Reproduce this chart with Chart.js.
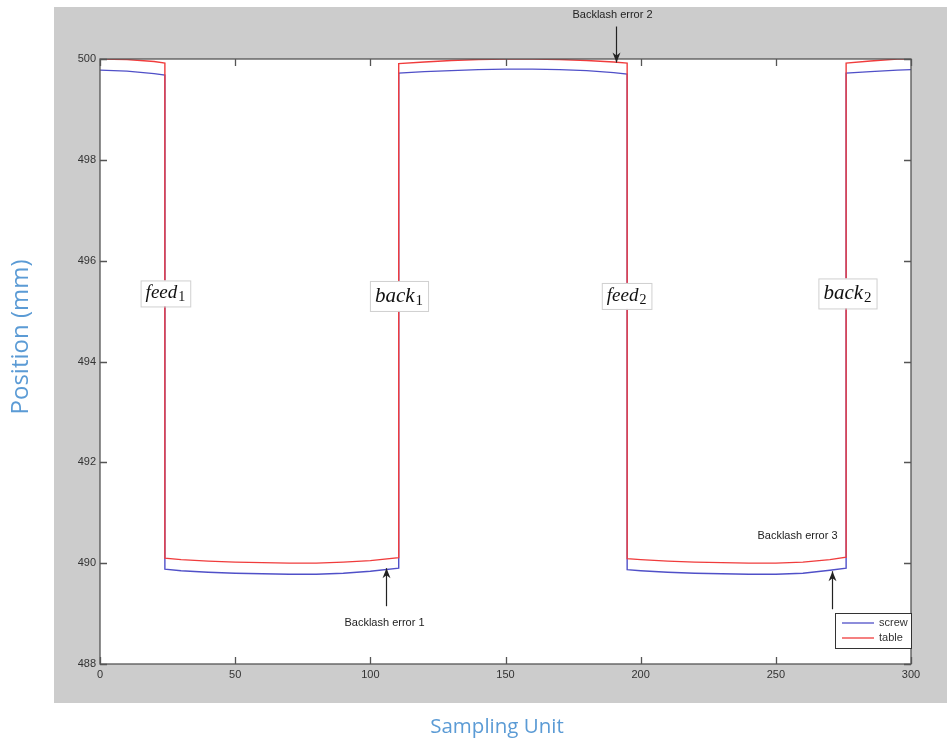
<!DOCTYPE html>
<html>
<head>
<meta charset="utf-8">
<script src="https://cdn.jsdelivr.net/npm/chart.js@4.4.1/dist/chart.umd.min.js"></script>
<style>
  html, body { margin: 0; padding: 0; background: #ffffff; }
  #wrap { width: 947px; height: 743px; position: relative; }
</style>
</head>
<body>
<div id="wrap"><canvas id="grafico" width="947" height="743"></canvas></div>
<script>
// ===========================
// Dados
// ===========================
const sampleX = [0, 10, 20, 24, 24, 30, 40, 50, 60, 70, 80, 90, 100, 110.5, 110.5,
    120, 130, 140, 150, 160, 170, 180, 190, 195, 195, 200, 210, 220, 230, 240,
    250, 260, 270, 276, 276, 285, 295, 300];

const tableValues = [500.00, 499.99, 499.95, 499.92, 490.10, 490.07, 490.04, 490.02,
    490.01, 490.00, 490.00, 490.02, 490.05, 490.11, 499.91, 499.94, 499.97, 499.99,
    500.00, 500.00, 499.99, 499.97, 499.94, 499.92, 490.09, 490.07, 490.04, 490.02,
    490.01, 490.00, 490.00, 490.02, 490.07, 490.12, 499.92, 499.96, 500.00, 500.00];

const screwValues = [499.78, 499.76, 499.71, 499.68, 489.88, 489.85, 489.82, 489.80,
    489.79, 489.78, 489.78, 489.80, 489.84, 489.90, 499.72, 499.75, 499.77, 499.79,
    499.80, 499.80, 499.79, 499.77, 499.73, 499.70, 489.87, 489.85, 489.82, 489.80,
    489.79, 489.78, 489.78, 489.80, 489.86, 489.90, 499.72, 499.75, 499.78, 499.79];

const seriesNames = ['screw', 'table'];

const xTicks = [0, 50, 100, 150, 200, 250, 300];
const yTicks = [488, 490, 492, 494, 496, 498, 500];

// labels feed/back (x, y em unidades do gráfico)
const phaseNames = ['feed', 'back', 'feed', 'back'];
const phaseSubs = ['1', '1', '2', '2'];
const phaseX = [24.2, 110.6, 194.8, 276.5];
const phaseY = [495.35, 495.3, 495.3, 495.35];

// setas "Backlash error"
const errorNames = ['Backlash error 1', 'Backlash error 2', 'Backlash error 3'];
const errorX = [105.8, 190.9, 270.8];
const errorTipY = [489.9, 499.93, 489.84];

const COR_SCREW = '#5050c8';
const COR_TABLE = '#f03c3c';
const COR_TITULO = '#5b9bd5';

// ===========================
// Plugin de desenho (fundo, caixa, anotações)
// ===========================
const matlabPlugin = {
    id: 'matlab',

    beforeDraw(chart) {
        const ctx = chart.ctx;
        const a = chart.chartArea;
        ctx.save();
        ctx.fillStyle = '#ffffff';
        ctx.fillRect(0, 0, chart.width, chart.height);
        ctx.fillStyle = '#cccccc';
        ctx.fillRect(54, 7, chart.width - 54, 696);
        ctx.fillStyle = '#ffffff';
        ctx.fillRect(a.left, a.top, a.right - a.left, a.bottom - a.top);
        ctx.restore();
    },

    afterDatasetsDraw(chart) {
        const ctx = chart.ctx;
        const a = chart.chartArea;
        const xs = chart.scales.x;
        const ys = chart.scales.y;

        ctx.save();

        // caixa
        ctx.strokeStyle = '#555555';
        ctx.lineWidth = 1.3;
        ctx.strokeRect(a.left, a.top, a.right - a.left, a.bottom - a.top);

        // ticks para dentro
        ctx.beginPath();
        xTicks.forEach(v => {
            const px = Math.round(xs.getPixelForValue(v)) + 0.5;
            ctx.moveTo(px, a.bottom); ctx.lineTo(px, a.bottom - 7);
            ctx.moveTo(px, a.top); ctx.lineTo(px, a.top + 7);
        });
        yTicks.forEach(v => {
            const py = Math.round(ys.getPixelForValue(v)) + 0.5;
            ctx.moveTo(a.left, py); ctx.lineTo(a.left + 7, py);
            ctx.moveTo(a.right, py); ctx.lineTo(a.right - 7, py);
        });
        ctx.stroke();

        // feed / back
        phaseNames.forEach((nome, i) => {
            const cx = xs.getPixelForValue(phaseX[i]);
            const cy = ys.getPixelForValue(phaseY[i]);
            const big = nome === 'back';
            const fMain = 'italic ' + (big ? 21 : 19) + 'px "Liberation Serif"';
            const fSub = (big ? 15 : 14) + 'px "Liberation Serif"';
            ctx.font = fMain;
            const w1 = ctx.measureText(nome).width;
            ctx.font = fSub;
            const w2 = ctx.measureText(phaseSubs[i]).width;
            const w = w1 + w2 + 1;
            const bw = w + 10;
            const bh = big ? 30 : 26;
            ctx.fillStyle = '#ffffff';
            ctx.fillRect(cx - bw / 2, cy - bh / 2, bw, bh);
            ctx.strokeStyle = '#d0d0d0';
            ctx.lineWidth = 1;
            ctx.strokeRect(cx - bw / 2 + 0.5, cy - bh / 2 + 0.5, bw, bh);
            ctx.fillStyle = '#111111';
            ctx.textBaseline = 'alphabetic';
            ctx.textAlign = 'left';
            ctx.font = fMain;
            const base = cy + (big ? 6 : 5);
            ctx.fillText(nome, cx - w / 2, base);
            ctx.font = fSub;
            ctx.fillText(phaseSubs[i], cx - w / 2 + w1 + 1, base + 3);
        });

        // setas Backlash error
        ctx.font = '11px "Liberation Sans"';
        ctx.textAlign = 'center';
        ctx.textBaseline = 'middle';
        errorNames.forEach((nome, i) => {
            const px = Math.round(xs.getPixelForValue(errorX[i])) + 0.5;
            const tip = ys.getPixelForValue(errorTipY[i]);
            const down = i === 1;
            const tail = down ? tip - 36 : tip + 38;
            ctx.strokeStyle = '#222222';
            ctx.fillStyle = '#222222';
            ctx.lineWidth = 1.2;
            ctx.beginPath();
            ctx.moveTo(px, tail);
            ctx.lineTo(px, tip);
            ctx.stroke();
            const d = down ? -1 : 1;
            ctx.beginPath();
            ctx.moveTo(px, tip);
            ctx.lineTo(px - 4, tip + d * 10);
            ctx.lineTo(px, tip + d * 7);
            ctx.lineTo(px + 4, tip + d * 10);
            ctx.closePath();
            ctx.fill();
            ctx.fillStyle = '#222222';
            if (i === 0) ctx.fillText(nome, px - 2, tail + 17);
            if (i === 1) ctx.fillText(nome, px - 4, tail - 12);
            if (i === 2) ctx.fillText(nome, px - 35, tip - 35);
        });

        // legenda
        const lx = 835, ly = 613, lw = 76, lh = 35;
        ctx.fillStyle = '#ffffff';
        ctx.fillRect(lx, ly, lw, lh);
        ctx.strokeStyle = '#333333';
        ctx.lineWidth = 1;
        ctx.strokeRect(lx + 0.5, ly + 0.5, lw, lh);
        [COR_SCREW, COR_TABLE].forEach((cor, i) => {
            const yy = ly + 10 + i * 15;
            ctx.strokeStyle = cor;
            ctx.lineWidth = 1.3;
            ctx.beginPath();
            ctx.moveTo(lx + 7, yy);
            ctx.lineTo(lx + 39, yy);
            ctx.stroke();
            ctx.fillStyle = '#333333';
            ctx.textAlign = 'left';
            ctx.textBaseline = 'middle';
            ctx.font = '11px "Liberation Sans"';
            ctx.fillText(seriesNames[i], lx + 44, yy);
        });

        // títulos dos eixos
        ctx.fillStyle = COR_TITULO;
        ctx.textAlign = 'center';
        ctx.textBaseline = 'middle';
        ctx.font = '20.5px "Open Sans"';
        ctx.fillText('Sampling Unit', 497, 727);
        ctx.font = '24px "Open Sans"';
        ctx.translate(21, 337);
        ctx.rotate(-Math.PI / 2);
        ctx.fillText('Position (mm)', 0, 0);

        ctx.restore();
    }
};

// ===========================
// Gráfico
// ===========================
const ctx = document.getElementById('grafico').getContext('2d');

new Chart(ctx, {
    type: 'line',
    data: {
        datasets: [
            {
                label: seriesNames[0],
                data: sampleX.map((x, i) => ({ x: x, y: screwValues[i] })),
                borderColor: COR_SCREW,
                borderWidth: 1.4,
                pointRadius: 0,
                tension: 0,
                order: 2
            },
            {
                label: seriesNames[1],
                data: sampleX.map((x, i) => ({ x: x, y: tableValues[i] })),
                borderColor: COR_TABLE,
                borderWidth: 1.4,
                pointRadius: 0,
                tension: 0,
                order: 1
            }
        ]
    },
    options: {
        responsive: false,
        animation: false,
        layout: {
            padding: { left: 0, right: 36, top: 59, bottom: 0 }
        },
        plugins: {
            legend: { display: false },
            tooltip: { enabled: false }
        },
        scales: {
            x: {
                type: 'linear',
                min: 0,
                max: 300,
                afterFit: s => { s.height = 79; },
                afterBuildTicks: s => { s.ticks = xTicks.map(v => ({ value: v })); },
                grid: { display: false, drawTicks: false },
                border: { display: false },
                ticks: {
                    padding: 4,
                    color: '#333333',
                    font: { family: 'Liberation Sans', size: 11 },
                    maxRotation: 0
                }
            },
            y: {
                min: 488,
                max: 500,
                afterFit: s => { s.width = 100; },
                afterBuildTicks: s => { s.ticks = yTicks.map(v => ({ value: v })); },
                grid: { display: false, drawTicks: false },
                border: { display: false },
                ticks: {
                    padding: 4,
                    color: '#333333',
                    font: { family: 'Liberation Sans', size: 11 }
                }
            }
        }
    },
    plugins: [matlabPlugin]
});
</script>
</body>
</html>
